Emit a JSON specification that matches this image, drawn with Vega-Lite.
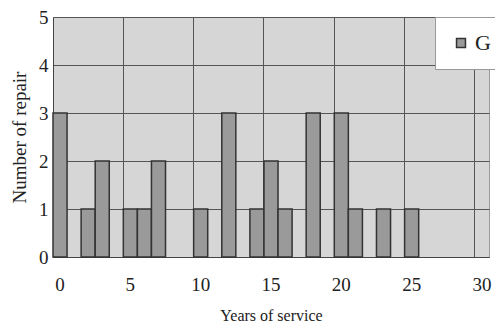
{
  "$schema": "https://vega.github.io/schema/vega-lite/v6.json",
  "autosize": "none",
  "width": 436,
  "height": 240,
  "padding": {"left": 53, "top": 17, "right": 6, "bottom": 72},
  "background": "white",
  "config": {
    "font": "Liberation Serif",
    "view": {"fill": "#d6d6d6", "stroke": "#999", "strokeWidth": 1},
    "axis": {"labelFont": "Liberation Serif", "titleFont": "Liberation Serif", "labelColor": "#222", "titleColor": "#222", "titleFontWeight": "normal"},
    "legend": {"labelFont": "Liberation Serif"}
  },
  "data": {"values": [
    {"year": 0, "repairs": 3, "type": "G"},
    {"year": 2, "repairs": 1, "type": "G"},
    {"year": 3, "repairs": 2, "type": "G"},
    {"year": 5, "repairs": 1, "type": "G"},
    {"year": 6, "repairs": 1, "type": "G"},
    {"year": 7, "repairs": 2, "type": "G"},
    {"year": 10, "repairs": 1, "type": "G"},
    {"year": 12, "repairs": 3, "type": "G"},
    {"year": 14, "repairs": 1, "type": "G"},
    {"year": 15, "repairs": 2, "type": "G"},
    {"year": 16, "repairs": 1, "type": "G"},
    {"year": 18, "repairs": 3, "type": "G"},
    {"year": 20, "repairs": 3, "type": "G"},
    {"year": 21, "repairs": 1, "type": "G"},
    {"year": 23, "repairs": 1, "type": "G"},
    {"year": 25, "repairs": 1, "type": "G"}
  ]},
  "layer": [
    {
      "mark": {"type": "bar", "stroke": "#333", "strokeWidth": 1.5},
      "encoding": {
        "x": {
          "field": "year", "type": "ordinal",
          "scale": {"domain": [0,1,2,3,4,5,6,7,8,9,10,11,12,13,14,15,16,17,18,19,20,21,22,23,24,25,26,27,28,29,30], "paddingInner": 0, "paddingOuter": 0},
          "axis": {"values": [0,5,10,15,20,25,30], "labelAngle": 0, "labelFontSize": 19, "labelPadding": 18, "ticks": false, "grid": false, "domainColor": "#444", "title": "Years of service", "titleFontSize": 16, "titlePadding": 13}
        },
        "y": {
          "field": "repairs", "type": "quantitative",
          "scale": {"domain": [0, 5]},
          "axis": {"values": [0,1,2,3,4,5], "labelFontSize": 19, "labelPadding": 5, "ticks": false, "grid": true, "gridColor": "#555", "gridOpacity": 1, "domainColor": "#444", "title": "Number of repair", "titleFontSize": 19, "titlePadding": 9}
        },
        "fill": {
          "field": "type", "type": "nominal",
          "scale": {"range": ["#9a9a9a"]},
          "legend": {"title": null, "orient": "none", "legendX": 382, "legendY": 0, "fillColor": "white", "strokeColor": "#999", "padding": 15, "symbolType": "square", "symbolSize": 80, "symbolStrokeColor": "#333", "symbolStrokeWidth": 1.5, "labelFontSize": 22, "labelColor": "#222", "labelOffset": 3}
        }
      }
    },
    {
      "mark": {"type": "bar", "opacity": 0},
      "encoding": {
        "x": {
          "field": "year", "type": "ordinal",
          "axis": {"orient": "top", "values": [5,10,15,20,25,30], "bandPosition": 0, "labels": false, "ticks": false, "domain": false, "grid": true, "gridColor": "#555", "gridOpacity": 1, "title": null}
        },
        "y": {"field": "repairs", "type": "quantitative"}
      }
    }
  ],
  "resolve": {"axis": {"x": "independent"}}
}
